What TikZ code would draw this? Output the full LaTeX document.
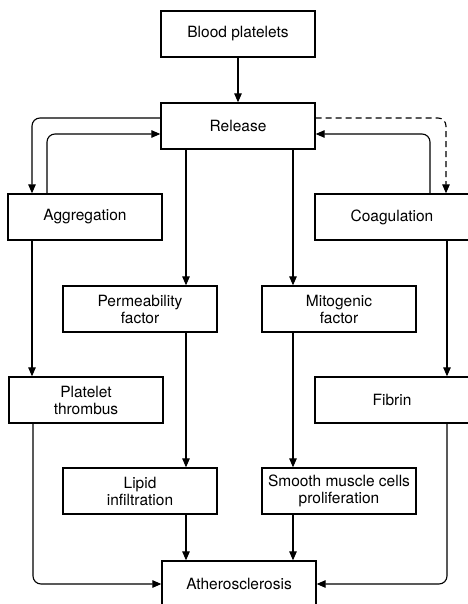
\documentclass[tikz,border=0pt]{standalone}
\usepackage{fontspec}
\setmainfont{TeX Gyre Heros}
\usetikzlibrary{arrows.meta}

\begin{document}
\begin{tikzpicture}[
    x=1pt, y=-1pt,
    every node/.style={
        draw, rectangle,
        line width=1.3pt,
        minimum width=154pt,
        minimum height=46pt,
        inner sep=2pt,
        align=center,
        font=\fontsize{15.5}{17}\selectfont
    },
    link/.style={line width=1.1pt, -{Triangle[length=9pt,width=7.5pt]}},
    loop/.style={link, rounded corners=8pt}
]
\useasboundingbox (0,0) rectangle (467,604);
\node (blood) at (238,34) {Blood platelets};
\node (rel) at (238,126) {Release};
\node (agg) at (85,217) {Aggregation};
\node (coag) at (392,217) {Coagulation};
\node (perm) at (140,309) {Permeability\\factor};
\node (mito) at (339,309) {Mitogenic\\factor};
\node (thr) at (86,400) {Platelet\\thrombus};
\node (fib) at (392,400) {Fibrin};
\node (lip) at (140,491) {Lipid\\infiltration};
\node (smc) at (339,491) {Smooth muscle cells\\proliferation};
\node (ath) at (239,584) {Atherosclerosis};

\draw[link] (blood) -- (rel);
\draw[loop] ([yshift=8pt]rel.west) -| ([xshift=-53pt]agg.north);
\draw[loop] ([xshift=-38pt]agg.north) |- ([yshift=-8pt]rel.west);
\draw[loop, dash pattern=on 6pt off 4pt] ([yshift=8pt]rel.east) -| ([xshift=54pt]coag.north);
\draw[loop] ([xshift=38pt]coag.north) |- ([yshift=-8pt]rel.east);
\draw[link] ([xshift=-52pt]rel.south) -- ([xshift=46pt]perm.north);
\draw[link] ([xshift=55pt]rel.south) -- ([xshift=-46pt]mito.north);
\draw[link] ([xshift=-53pt]agg.south) -- ([xshift=-54pt]thr.north);
\draw[link] ([xshift=55pt]coag.south) -- ([xshift=55pt]fib.north);
\draw[link] ([xshift=46pt]perm.south) -- ([xshift=46pt]lip.north);
\draw[link] ([xshift=-46pt]mito.south) -- ([xshift=-46pt]smc.north);
\draw[link] ([xshift=46pt]lip.south) -- ([xshift=-53pt]ath.north);
\draw[link] ([xshift=-46pt]smc.south) -- ([xshift=54pt]ath.north);
\draw[loop] ([xshift=-53pt]thr.south) |- (ath.west);
\draw[loop] ([xshift=55pt]fib.south) |- (ath.east);
\end{tikzpicture}
\end{document}
